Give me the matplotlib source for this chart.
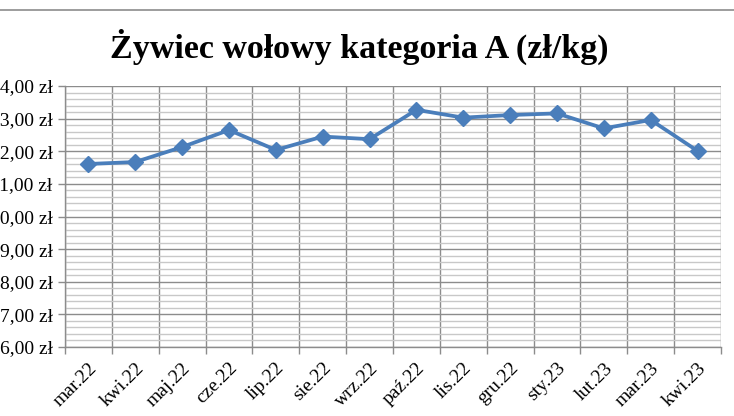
import matplotlib
matplotlib.use("Agg")
import matplotlib.pyplot as plt
from matplotlib.ticker import MultipleLocator, FixedLocator, FuncFormatter
from matplotlib.lines import Line2D

months = ["mar.22", "kwi.22", "maj.22", "cze.22", "lip.22", "sie.22", "wrz.22",
          "paź.22", "lis.22", "gru.22", "sty.23", "lut.23", "mar.23", "kwi.23"]
prices = [11.61, 11.67, 12.13, 12.65, 12.04, 12.45, 12.37,
          13.27, 13.03, 13.11, 13.16, 12.70, 12.96, 12.01]
title = "Żywiec wołowy kategoria A (zł/kg)"
y_min, y_max = 6, 14

plt.rcParams['font.family'] = ['Liberation Serif', 'DejaVu Serif']

fig = plt.figure(figsize=(7.34, 4.16), dpi=100)
ax = fig.add_axes([65/734, 1 - 347/416, (721 - 65)/734, (347 - 86)/416])

n = len(months)
xs = [i + 0.5 for i in range(n)]
ax.plot(xs, prices, color="#4a7ebb", lw=2.7, marker="D", markersize=8,
        markeredgecolor="#4a7ebb", markerfacecolor="#4a7ebb", zorder=5, clip_on=False)

ax.set_xlim(0, n)
ax.set_ylim(y_min, y_max)

# y axis
ax.yaxis.set_major_locator(MultipleLocator(1))
ax.yaxis.set_minor_locator(MultipleLocator(0.2))
ax.yaxis.set_major_formatter(FuncFormatter(lambda v, p: f"{v:.2f}".replace(".", ",") + " zł"))
ax.grid(which="minor", axis="y", color="#c8c8c8", lw=1.0, zorder=1)
ax.grid(which="major", axis="y", color="#8c8c8c", lw=1.0, zorder=2)
ax.tick_params(axis="y", which="major", length=5, width=1, color="#8c8c8c",
               pad=4, labelsize=14)
ax.tick_params(axis="y", which="minor", length=0)

# x axis: boundaries as major ticks (gridlines), labels at centers
ax.xaxis.set_major_locator(FixedLocator(list(range(n + 1))))
ax.xaxis.set_major_formatter(FuncFormatter(lambda v, p: ""))
ax.set_xticks(xs, minor=True)
ax.set_xticklabels(months, minor=True, rotation=45, ha="right", va="top",
                   rotation_mode="anchor")
ax.grid(which="major", axis="x", color="#8c8c8c", lw=1.0, zorder=2)
ax.tick_params(axis="x", which="major", length=5, width=1, color="#8c8c8c")
ax.tick_params(axis="x", which="minor", length=0, pad=9, labelsize=14)

for s in ["top", "right"]:
    ax.spines[s].set_visible(False)
for s in ["left", "bottom"]:
    ax.spines[s].set_color("#8c8c8c")
    ax.spines[s].set_linewidth(1.0)

fig.text(359/734, 1 - 47/416, title, ha="center", va="center",
         fontsize=24.5, fontweight="bold")

fig.add_artist(Line2D([0, 1], [1 - 10/416, 1 - 10/416], transform=fig.transFigure,
                      color="#8c8c8c", lw=1.2))

fig.savefig("out.png", dpi=100)
